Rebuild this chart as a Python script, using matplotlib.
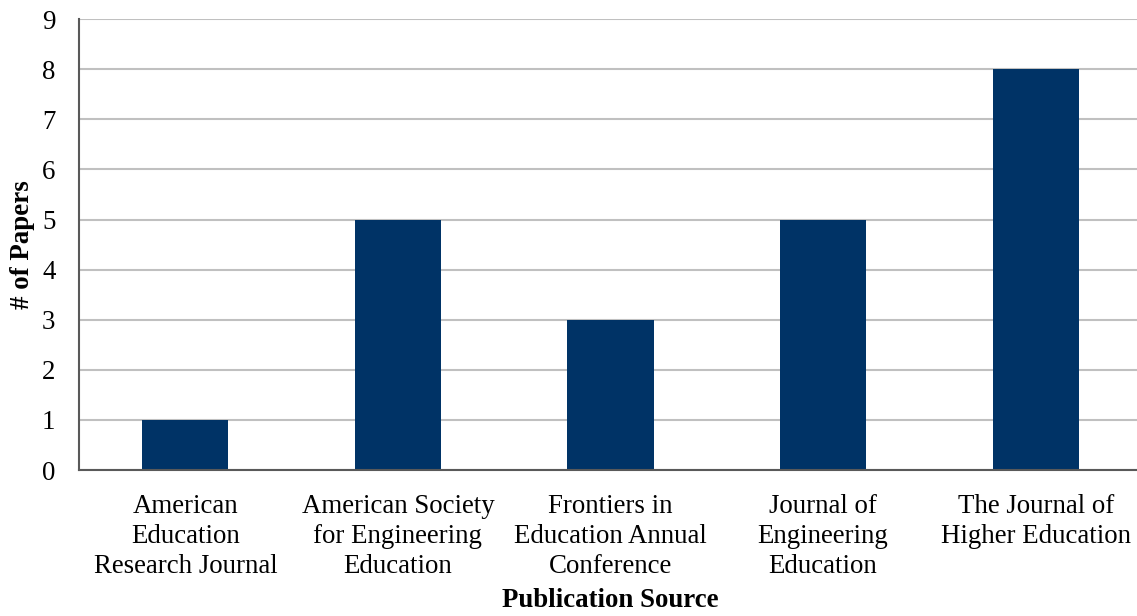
import numpy as np
import matplotlib.pyplot as plt

plt.rcParams['font.family'] = ['Liberation Serif', 'DejaVu Serif']

# publication sources and paper counts
sources = [
    "American\nEducation\nResearch Journal",
    "American Society\nfor Engineering\nEducation",
    "Frontiers in\nEducation Annual\nConference",
    "Journal of\nEngineering\nEducation",
    "The Journal of\nHigher Education",
]
papers = [1, 5, 3, 5, 8]
y_ticks = list(range(0, 10))

fig = plt.figure(figsize=(11.37, 6.16), dpi=100)
ax = fig.add_axes([0.0695, 0.237, 0.9349, 0.732])

x = np.arange(len(sources))
ax.bar(x, papers, width=0.405, color="#003366", zorder=3)

ax.set_xlim(-0.5, len(sources) - 0.5)
ax.set_ylim(0, 9)
ax.set_yticks(y_ticks)
ax.set_xticks(x)
ax.set_xticklabels(sources, fontsize=19.4, linespacing=1.26, va='top')
ax.tick_params(axis='y', labelsize=19.4, length=0, pad=17)
ax.tick_params(axis='x', length=0, pad=17.5)

ax.grid(axis='y', color="#c0c0c0", linewidth=1.5, zorder=0)
for side in ['top', 'right']:
    ax.spines[side].set_visible(False)
for side in ['left', 'bottom']:
    ax.spines[side].set_color("#595959")
    ax.spines[side].set_linewidth(1.5)
    ax.spines[side].set_zorder(4)

ax.set_xlabel("Publication Source", fontsize=19.4, fontweight='bold', labelpad=6)
ax.set_ylabel("# of Papers", fontsize=19.4, fontweight='bold', labelpad=5)

fig.savefig("out.png", dpi=100)
